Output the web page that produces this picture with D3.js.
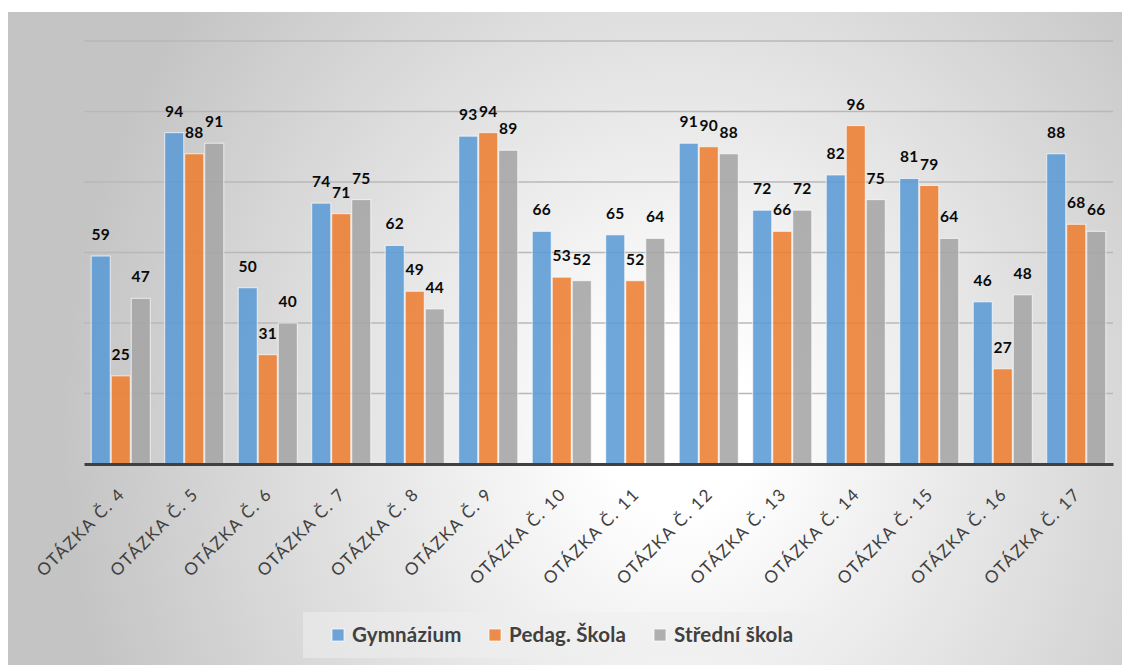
<!DOCTYPE html>
<html><head><meta charset="utf-8">
<script src="https://cdn.jsdelivr.net/npm/d3@7"></script>
<style>html,body{margin:0;padding:0;background:#fff;}svg{display:block;}</style>
</head><body>
<svg id="c" width="1131" height="666"></svg>
<script>
const categories = ["OTÁZKA Č. 4","OTÁZKA Č. 5","OTÁZKA Č. 6","OTÁZKA Č. 7","OTÁZKA Č. 8","OTÁZKA Č. 9","OTÁZKA Č. 10","OTÁZKA Č. 11","OTÁZKA Č. 12","OTÁZKA Č. 13","OTÁZKA Č. 14","OTÁZKA Č. 15","OTÁZKA Č. 16","OTÁZKA Č. 17"];
const seriesNames = ["Gymnázium","Pedag. Škola","Střední škola"];
const gymnazium = [59,94,50,74,62,93,66,65,91,72,82,81,46,88];
const pedagSkola = [25,88,31,71,49,94,53,52,90,66,96,79,27,68];
const stredniSkola = [47,91,40,75,44,89,52,64,88,72,75,64,48,66];
const yTicks = [20,40,60,80,100,120];
const colors = ["#5B9BD5","#ED7D31","#A5A5A5"];

const seriesValues = [gymnazium, pedagSkola, stredniSkola];
const svg = d3.select("#c");

// background gradient
const defs = svg.append("defs");
const rg = defs.append("radialGradient").attr("id","bg")
  .attr("gradientUnits","userSpaceOnUse")
  .attr("cx",680).attr("cy",430).attr("r",620)
  .attr("gradientTransform","translate(680,430) scale(1,1.13) translate(-680,-430)");
rg.append("stop").attr("offset",0).attr("stop-color","#ffffff");
rg.append("stop").attr("offset",0.12).attr("stop-color","#ffffff");
rg.append("stop").attr("offset",1).attr("stop-color","#c4c4c4");
svg.append("rect").attr("x",8).attr("y",12).attr("width",1114).attr("height",653).attr("fill","url(#bg)");

const x = d3.scaleBand().domain(categories).range([84,1113]).paddingInner(0.183).paddingOuter(0.0915);
const xs = d3.scaleBand().domain(d3.range(3)).range([0,x.bandwidth()]).padding(0);
const y = d3.scaleLinear().domain([0,120]).range([464,41]);

// gridlines
svg.append("g").selectAll("line").data(yTicks).join("line")
  .attr("x1",84).attr("x2",1113)
  .attr("y1",d=>y(d)).attr("y2",d=>y(d))
  .attr("stroke","#b8b8b8").attr("stroke-width",1.5);

// bars
const groups = svg.append("g").selectAll("g").data(categories).join("g")
  .attr("transform",d=>`translate(${x(d)},0)`);
groups.each(function(cat,i){
  const g = d3.select(this);
  seriesValues.forEach((vals,s)=>{
    g.append("rect")
      .attr("x",xs(s)+0.5).attr("width",xs.bandwidth()-1)
      .attr("y",y(vals[i])).attr("height",y(0)-y(vals[i]))
      .attr("fill",colors[s]).attr("fill-opacity",0.88)
      .attr("stroke","#ffffff").attr("stroke-opacity",0.7).attr("stroke-width",1);
    g.append("text")
      .attr("x",xs(s)+xs.bandwidth()/2).attr("y",y(vals[i])-16)
      .attr("text-anchor","middle")
      .attr("font-family","Lato, 'Open Sans', sans-serif").attr("font-weight","bold")
      .attr("font-size",15.5).attr("letter-spacing","0.3px").attr("fill","#0a0a0a")
      .text(vals[i]);
  });
});

// axis baseline
const xAxis = d3.axisBottom(x).tickSize(0).tickPadding(0);
const ax = svg.append("g").attr("transform",`translate(0,${y(0)})`).call(xAxis);
ax.select(".domain").attr("stroke","#404040").attr("stroke-width",3);
ax.selectAll(".tick text")
  .attr("font-family","Lato, 'Open Sans', sans-serif").attr("font-size",17)
  .attr("letter-spacing","1.5px")
  .attr("fill","#404040")
  .attr("text-anchor","end")
  .attr("dy","0.35em")
  .attr("transform","translate(1,27) rotate(-45)");

// legend
const lg = svg.append("g");
lg.append("rect").attr("x",303).attr("y",612).attr("width",509).attr("height",46)
  .attr("fill","#eeeeee").attr("fill-opacity",0.55);
const legendX = [332,489,654];
seriesNames.forEach((n,s)=>{
  lg.append("rect").attr("x",legendX[s]).attr("y",629).attr("width",12).attr("height",12)
    .attr("fill",colors[s]).attr("fill-opacity",0.88).attr("stroke","#fff").attr("stroke-opacity",0.7);
  lg.append("text").attr("x",legendX[s]+20).attr("y",635).attr("dy","0.35em")
    .attr("font-family","Lato, 'Open Sans', sans-serif").attr("font-weight","bold")
    .attr("font-size",20.5).attr("letter-spacing","0.2px").attr("fill","#404040").text(n);
});
</script>
</body></html>
